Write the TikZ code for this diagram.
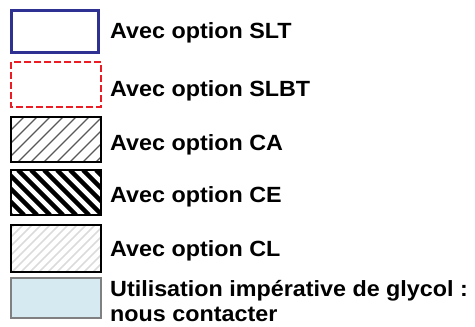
\documentclass[tikz,border=0pt]{standalone}
\usepackage{fontspec}
\usepackage{graphicx}
\setmainfont{Liberation Sans}
\definecolor{navy}{HTML}{2E3192}
\definecolor{dred}{HTML}{EC1C24}
\definecolor{lblue}{HTML}{D5EBF1}
\definecolor{gborder}{HTML}{808080}
\newcommand{\wide}[1]{\scalebox{1.06}[1]{#1}}
\begin{document}
\begin{tikzpicture}[x=1pt,y=-1pt,
  lbl/.style={anchor=base west,inner sep=0pt,font=\fontsize{22}{26}\selectfont\bfseries},
  boxframe/.style={draw=black,line width=2.8pt},
  hatchA/.style={draw=black!65,line width=1.3pt},
  hatchE/.style={draw=black,line width=4.3pt},
  hatchL/.style={draw=black!14,line width=1.6pt}]
\useasboundingbox (0,0) rectangle (475,327);
% SLT
\draw[navy,line width=3pt] (11,10) rectangle (98,52);
% SLBT
\draw[dred,line width=2.8pt,dash pattern=on 7pt off 3pt] (11,62) rectangle (101,107);
% CA
\begin{scope}
\clip (11,117) rectangle (101,162);
\foreach \i in {-60,-47,...,120} \draw[hatchA] (\i,162) -- (\i+45,117);
\end{scope}
\draw[boxframe] (11,117) rectangle (101,162);
% CE
\begin{scope}
\clip (11,170) rectangle (101,215);
\foreach \i in {-60,-47,...,120} \draw[hatchE] (\i,170) -- (\i+45,215);
\end{scope}
\draw[boxframe] (11,170) rectangle (101,215);
% CL
\begin{scope}
\clip (11,225) rectangle (101,272);
\foreach \i in {-60,-51,...,120} \draw[hatchL] (\i,272) -- (\i+47,225);
\end{scope}
\draw[boxframe] (11,225) rectangle (101,272);
% glycol
\draw[gborder,fill=lblue,line width=2.8pt] (11,278) rectangle (101,318);
% labels
\node[lbl] (tslt) at (110,38.5) {\wide{Avec option SLT}};
\node[lbl] (tslbt) at (110,96.5) {\wide{Avec option SLBT}};
\node[lbl] (tca) at (110,150) {\wide{Avec option CA}};
\node[lbl] (tce) at (110,202.5) {\wide{Avec option CE}};
\node[lbl] (tcl) at (110,256) {\wide{Avec option CL}};
\node[lbl] (tgly) at (110,296) {\wide{Utilisation impérative de glycol :}};
\node[lbl] (tnous) at (110,321.5) {\wide{nous contacter}};
\end{tikzpicture}
\end{document}
